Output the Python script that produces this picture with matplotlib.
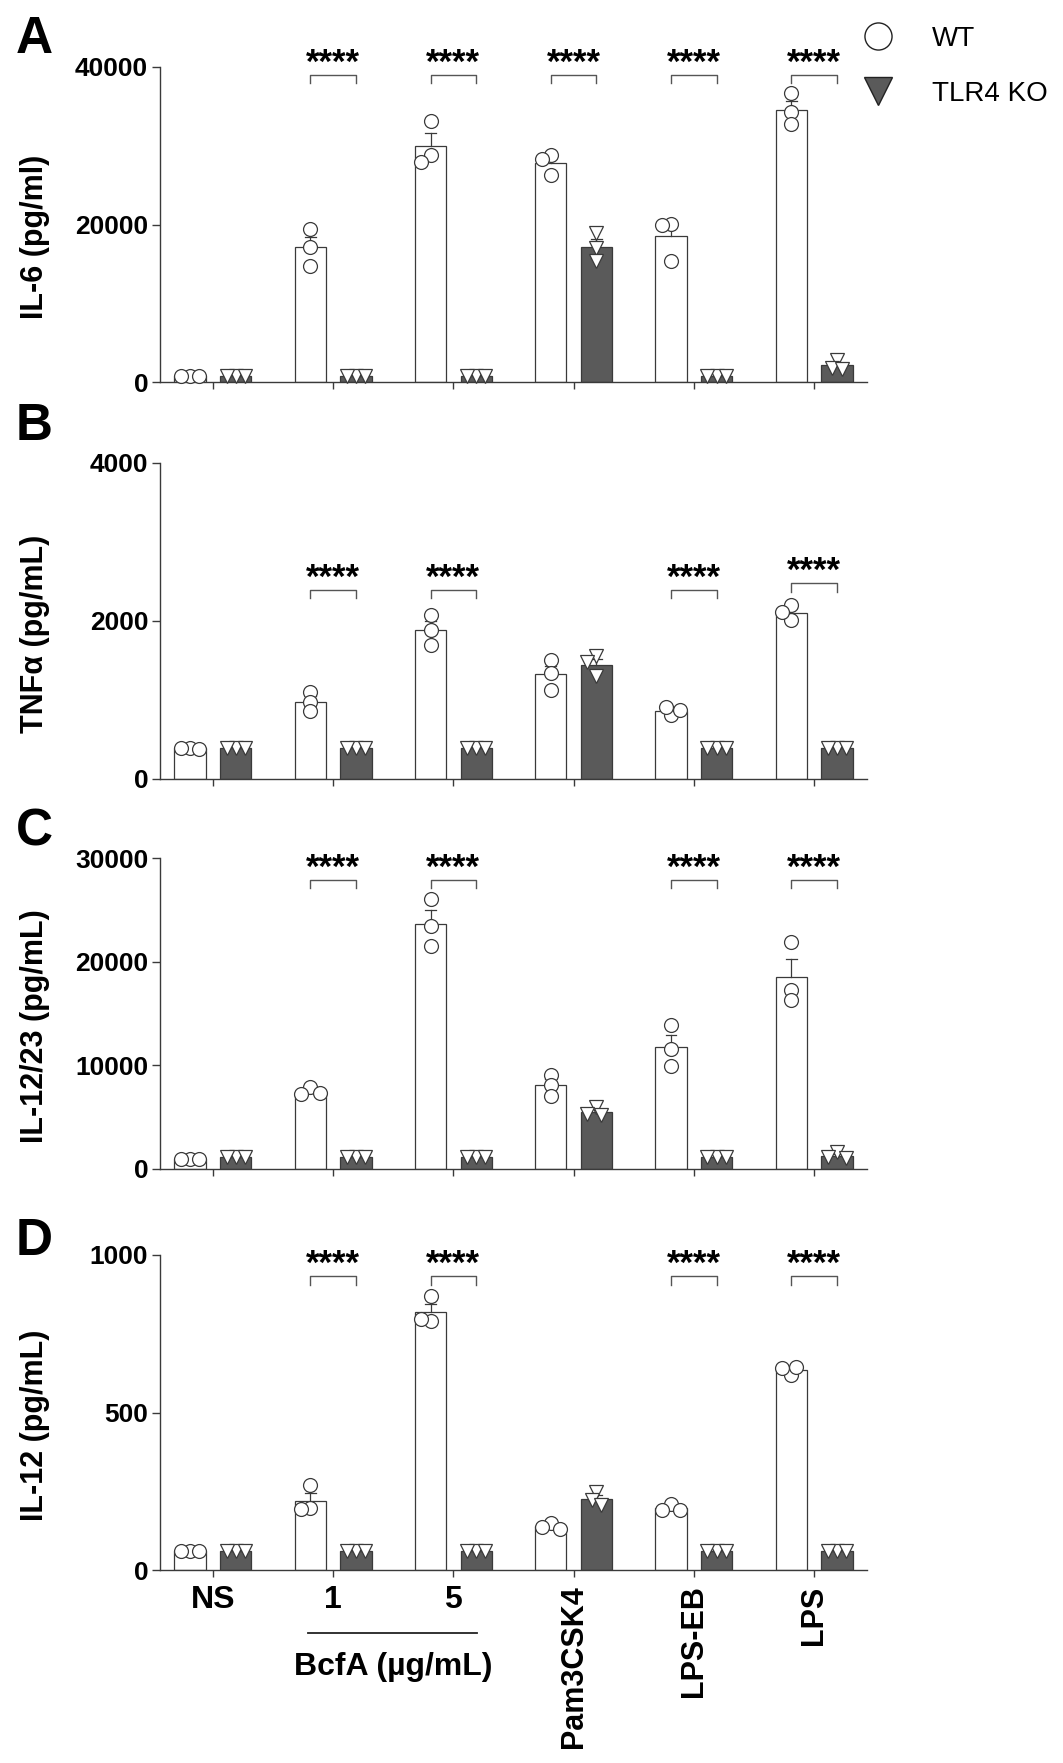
import numpy as np
import matplotlib
matplotlib.use("Agg")
import matplotlib.pyplot as plt
from matplotlib.lines import Line2D
from matplotlib import transforms

plt.rcParams['font.family'] = ['Liberation Sans', 'DejaVu Sans']
plt.rcParams['font.weight'] = 'bold'

# ---- data (3 replicates per bar) ----
groups = ['NS', '1', '5', 'Pam3CSK4', 'LPS-EB', 'LPS']
label_rot = [0, 0, 0, 90, 90, 90]

il6_wt = [[800, 800, 750], [19400, 17200, 14700], [33200, 28800, 28000],
          [28800, 28300, 26300], [20100, 20000, 15400], [36700, 34300, 32800]]
il6_ko = [[800, 800, 800], [800, 800, 800], [800, 800, 800],
          [18900, 17000, 15400], [800, 800, 800], [2800, 1800, 1700]]

tnf_wt = [[390, 390, 380], [1100, 980, 860], [2080, 1890, 1700],
          [1510, 1340, 1130], [810, 910, 870], [2010, 2200, 2110]]
tnf_ko = [[390, 390, 390], [390, 390, 390], [390, 390, 390],
          [1560, 1480, 1300], [390, 390, 390], [390, 390, 390]]

il1223_wt = [[1000, 1000, 1000], [7900, 7200, 7300], [26000, 23400, 21500],
             [9100, 8100, 7000], [13900, 11600, 9900], [21900, 17300, 16300]]
il1223_ko = [[1150, 1150, 1150], [1150, 1150, 1150], [1150, 1150, 1150],
             [6000, 5300, 5200], [1150, 1150, 1150], [1600, 1200, 1100]]

il12_wt = [[60, 60, 60], [270, 197, 194], [870, 792, 797],
           [150, 135, 130], [210, 190, 192], [620, 640, 645]]
il12_ko = [[60, 60, 60], [60, 60, 60], [60, 60, 60],
           [248, 222, 205], [60, 60, 60], [60, 60, 60]]

# significance: group index -> bracket level
sig_a = {1: 39000, 2: 39000, 3: 39000, 4: 39000, 5: 39000}
sig_b = {1: 2394, 2: 2394, 4: 2394, 5: 2479}
sig_c = {1: 27900, 2: 27900, 4: 27900, 5: 27900}
sig_d = {1: 932, 2: 932, 4: 932, 5: 932}

panels = [
    ('A', 'IL-6 (pg/ml)', il6_wt, il6_ko, 40000, [0, 20000, 40000], sig_a),
    ('B', 'TNF\u03b1 (pg/mL)', tnf_wt, tnf_ko, 4000, [0, 2000, 4000], sig_b),
    ('C', 'IL-12/23 (pg/mL)', il1223_wt, il1223_ko, 30000,
     [0, 10000, 20000, 30000], sig_c),
    ('D', 'IL-12 (pg/mL)', il12_wt, il12_ko, 1000, [0, 500, 1000], sig_d),
]

# ---- layout ----
W, H = 1063, 1763
fig = plt.figure(figsize=(W / 100, H / 100), dpi=100)
left, width = 160 / W, 707 / W
axes_px = [(67, 382), (463, 779), (858, 1169), (1255, 1570)]
letter_base = [53, 440, 845, 1255]

ko_color = '#5a5a5a'
line_c = '#3a3a3a'
off, bw = 0.19, 0.26
diam = 14  # marker diameter in px


def swarm_x(ax, xc, vals, d):
    placed, xs = [], []
    cands = [0, -0.33, 0.33, -0.66, 0.66, -1.0, 1.0, -1.33, 1.33]
    for v in vals:
        px, py = ax.transData.transform((xc, v))
        qx = px
        for c in cands:
            qx = px + c * d
            if all(np.hypot(qx - a, py - b) >= 0.65 * d for a, b in placed):
                break
        placed.append((qx, py))
        xs.append(ax.transData.inverted().transform((qx, py))[0])
    return xs


x = np.arange(len(groups))
for i, (letter, ylab, wt, ko, ymax, yt, sig) in enumerate(panels):
    top, bot = axes_px[i]
    ax = fig.add_axes([left, 1 - bot / H, width, (bot - top) / H])
    ax.set_xlim(-0.44, 5.44)
    ax.set_ylim(0, ymax)

    for data, sgn, fc, mk in ((wt, -1, 'white', 'o'), (ko, 1, ko_color, 'v')):
        arr = np.array(data, dtype=float)
        means = arr.mean(axis=1)
        sems = arr.std(axis=1, ddof=1) / np.sqrt(arr.shape[1])
        xb = x + sgn * off
        ax.bar(xb, means, width=bw, color=fc, edgecolor=line_c,
               linewidth=0.9, zorder=2)
        for j in range(len(groups)):
            ax.plot([xb[j], xb[j]], [means[j], means[j] + sems[j]],
                    color=line_c, lw=0.9, zorder=3)
            ax.plot([xb[j] - 0.045, xb[j] + 0.045],
                    [means[j] + sems[j]] * 2, color=line_c, lw=0.9, zorder=3)
            xs = swarm_x(ax, xb[j], arr[j], diam)
            ax.plot(xs, arr[j], ls='none', marker=mk, ms=10, mfc='white',
                    mec=line_c, mew=0.9, zorder=4, clip_on=False)

    # significance brackets
    leg = 0.027 * ymax
    for g, yb in sig.items():
        x0, x1 = g - off, g + off
        ax.plot([x0, x0, x1, x1], [yb - leg, yb, yb, yb - leg],
                color='#555555', lw=1.0, clip_on=False, zorder=5)
        ax.annotate('****', xy=(g, yb), xytext=(0, 1.5),
                    textcoords='offset points', ha='center', va='baseline',
                    fontsize=25, fontweight='bold', annotation_clip=False)

    for s in ('top', 'right'):
        ax.spines[s].set_visible(False)
    for s in ('left', 'bottom'):
        ax.spines[s].set_color(line_c)
        ax.spines[s].set_linewidth(1.0)
    ax.set_yticks(yt)
    ax.set_yticklabels([str(v) for v in yt], fontsize=19, fontweight='bold')
    ax.tick_params(axis='y', length=5.5, width=1.0, color=line_c, pad=3)
    ax.tick_params(axis='x', length=5, width=1.0, color=line_c, pad=6)
    ax.set_xticks(x)
    ax.set_ylabel(ylab, fontsize=22, fontweight='bold')
    ax.yaxis.set_label_coords(-0.156, 0.46)

    if i == 3:
        ax.set_xticklabels(groups)
        for lbl, rot in zip(ax.get_xticklabels(), label_rot):
            lbl.set_rotation(rot)
            lbl.set_fontsize(23 if rot == 0 else 22)
            lbl.set_fontweight('bold')
            lbl.set_va('top')
            lbl.set_ha('center')
        tr = transforms.blended_transform_factory(ax.transData, ax.transAxes)
        ax.plot([1 - 0.207, 2 + 0.193], [-0.2, -0.2], color='#222222',
                lw=1.3, transform=tr, clip_on=False)
        ax.text(1.5, -0.333, 'BcfA (\u00b5g/mL)', transform=tr,
                ha='center', va='baseline', fontsize=23, fontweight='bold')
    else:
        ax.set_xticklabels([])

    fig.text(16 / W, 1 - letter_base[i] / H, letter, fontsize=37,
             fontweight='bold', ha='left', va='baseline')

# legend
handles = [
    Line2D([], [], ls='none', marker='o', ms=19.5, mfc='white',
           mec='#222222', mew=1.0),
    Line2D([], [], ls='none', marker='v', ms=19.5, mfc=ko_color,
           mec='#222222', mew=1.0),
]
fig.legend(handles, ['WT', 'TLR4 KO'], loc='upper left',
           bbox_to_anchor=(864 / W, 1 - 26 / H), frameon=False,
           prop={'size': 20, 'weight': 'normal'}, handlelength=1.0,
           handletextpad=1.44, labelspacing=1.04, borderpad=0,
           borderaxespad=0)

fig.savefig('out.png', dpi=100)
